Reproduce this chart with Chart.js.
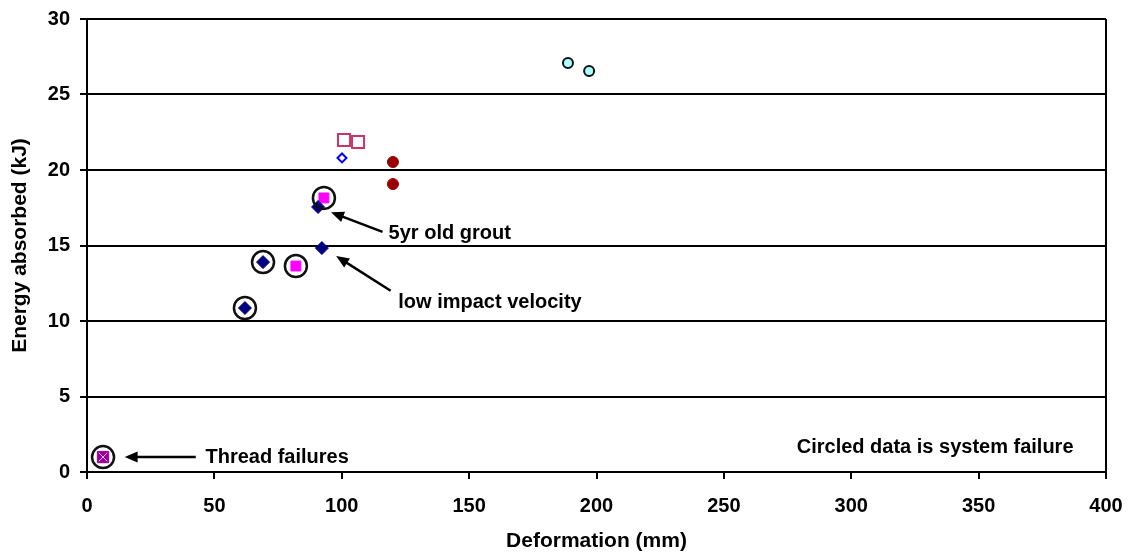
<!DOCTYPE html>
<html>
<head>
<meta charset="utf-8">
<script src="https://cdn.jsdelivr.net/npm/chart.js@4/dist/chart.umd.min.js"></script>
<style>
  body { margin: 0; background: #fff; }
</style>
</head>
<body>
<canvas id="myChart" width="1134" height="558"></canvas>
<script>
// values (deformation mm, energy kJ)
var navyX = [62.0, 69.1, 90.7, 92.2];
var navyY = [10.86, 13.9, 17.55, 14.83];
var magentaX = [82.0, 93.0];
var magentaY = [13.64, 18.15];
var blueOpenX = [100.1];
var blueOpenY = [20.8];
var pinkOpenX = [100.9, 106.4];
var pinkOpenY = [21.99, 21.85];
var darkRedX = [120.1, 120.1];
var darkRedY = [20.53, 19.07];
var cyanX = [188.8, 197.1];
var cyanY = [27.09, 26.56];
var threadX = [6.3];
var threadY = [0.99];
// points that are circled (system failure)
var failX = [6.3, 62.0, 69.1, 82.0, 93.0];
var failY = [0.99, 10.86, 13.9, 13.64, 18.15];

var xTicks = [0, 50, 100, 150, 200, 250, 300, 350, 400];
var yTicks = [0, 5, 10, 15, 20, 25, 30];

// annotation texts with anchor and arrow (tail -> tip), in data units
var notes = [
  { text: '5yr old grout', x: 118.4, y: 15.8, from: [116, 15.9], to: [95.8, 17.2] },
  { text: 'low impact velocity', x: 122.2, y: 11.25, from: [119.2, 12.0], to: [97.8, 14.3] },
  { text: 'Thread failures', x: 46.5, y: 0.95, from: [42.7, 0.99], to: [14.8, 0.99] },
  { text: 'Circled data is system failure', x: 278.6, y: 1.6 }
];

function pts(xs, ys) {
  return xs.map(function (x, i) { return { x: x, y: ys[i] }; });
}

var font = 'Liberation Sans, Arial, sans-serif';

var notesPlugin = {
  id: 'notes',
  afterDatasetsDraw: function (chart) {
    var c = chart.ctx, a = chart.chartArea;
    var sx = chart.scales.x, sy = chart.scales.y;
    c.save();
    // right border of plot area
    c.strokeStyle = '#000';
    c.lineWidth = 2;
    c.beginPath();
    c.moveTo(a.right, a.top);
    c.lineTo(a.right, a.bottom);
    c.stroke();
    c.font = 'bold 20px ' + font;
    c.fillStyle = '#000';
    c.textBaseline = 'middle';
    notes.forEach(function (n) {
      c.fillText(n.text, sx.getPixelForValue(n.x), sy.getPixelForValue(n.y));
      if (!n.from) return;
      var x1 = sx.getPixelForValue(n.from[0]), y1 = sy.getPixelForValue(n.from[1]);
      var x2 = sx.getPixelForValue(n.to[0]), y2 = sy.getPixelForValue(n.to[1]);
      var ang = Math.atan2(y2 - y1, x2 - x1);
      c.lineWidth = 2.5;
      c.beginPath();
      c.moveTo(x1, y1);
      c.lineTo(x2 - 8 * Math.cos(ang), y2 - 8 * Math.sin(ang));
      c.stroke();
      // arrow head
      c.beginPath();
      c.moveTo(x2, y2);
      c.lineTo(x2 - 14 * Math.cos(ang - 0.4), y2 - 14 * Math.sin(ang - 0.4));
      c.lineTo(x2 - 14 * Math.cos(ang + 0.4), y2 - 14 * Math.sin(ang + 0.4));
      c.closePath();
      c.fill();
    });
    c.restore();
  }
};

var ctx = document.getElementById('myChart');
var myChart = new Chart(ctx, {
  type: 'scatter',
  data: {
    datasets: [
      { data: pts(failX, failY), pointStyle: 'circle', pointRadius: 11, backgroundColor: 'rgba(0,0,0,0)', borderColor: '#111', pointBorderWidth: 2.5 },
      { data: pts(threadX, threadY), pointStyle: 'crossRot', pointRadius: 6, borderColor: '#e8c0e8', pointBorderWidth: 1 },
      { data: pts(threadX, threadY), pointStyle: 'rect', pointRadius: 8, backgroundColor: '#990099', borderColor: '#990099', pointBorderWidth: 1 },
      { data: pts(navyX, navyY), pointStyle: 'rectRot', pointRadius: 6.5, backgroundColor: '#000080', borderColor: '#000080', pointBorderWidth: 1 },
      { data: pts(magentaX, magentaY), pointStyle: 'rect', pointRadius: 7, backgroundColor: '#ff00ff', borderColor: '#ff00ff', pointBorderWidth: 1 },
      { data: pts(blueOpenX, blueOpenY), pointStyle: 'rectRot', pointRadius: 4.5, backgroundColor: '#fff', borderColor: '#0000ff', pointBorderWidth: 2 },
      { data: pts(pinkOpenX, pinkOpenY), pointStyle: 'rect', pointRadius: 8.5, backgroundColor: '#fff', borderColor: '#cc3366', pointBorderWidth: 2 },
      { data: pts(darkRedX, darkRedY), pointStyle: 'circle', pointRadius: 5.5, backgroundColor: '#990000', borderColor: '#990000', pointBorderWidth: 1 },
      { data: pts(cyanX, cyanY), pointStyle: 'circle', pointRadius: 5, backgroundColor: '#aaffff', borderColor: '#111', pointBorderWidth: 2 }
    ]
  },
  options: {
    responsive: false,
    animation: false,
    layout: { padding: { top: 19, right: 28, left: 0, bottom: 0 } },
    plugins: { legend: { display: false }, tooltip: { enabled: false } },
    scales: {
      x: {
        type: 'linear', min: 0, max: 400,
        afterBuildTicks: function (s) { s.ticks = xTicks.map(function (v) { return { value: v }; }); },
        afterFit: function (s) { s.height = 86; s.paddingRight = 0; s.paddingLeft = 0; },
        grid: { drawOnChartArea: false, color: '#000', lineWidth: 2, tickLength: 7 },
        border: { color: '#000', width: 2 },
        ticks: { color: '#000', font: { family: font, size: 20, weight: 'bold' }, padding: 15, maxRotation: 0 },
        title: { display: true, text: 'Deformation (mm)', color: '#000', font: { family: font, size: 21, weight: 'bold' }, padding: { top: 4 } }
      },
      y: {
        type: 'linear', min: 0, max: 30,
        afterBuildTicks: function (s) { s.ticks = yTicks.map(function (v) { return { value: v }; }); },
        afterFit: function (s) { s.width = 87; s.paddingTop = 0; s.paddingBottom = 0; },
        grid: { color: '#000', lineWidth: 2, tickLength: 7 },
        border: { color: '#000', width: 2 },
        ticks: { color: '#000', font: { family: font, size: 20, weight: 'bold' }, padding: 10 },
        title: { display: true, text: 'Energy absorbed (kJ)', color: '#000', font: { family: font, size: 21, weight: 'bold' }, padding: { top: 8, bottom: 2 } }
      }
    }
  },
  plugins: [notesPlugin]
});
</script>
</body>
</html>
